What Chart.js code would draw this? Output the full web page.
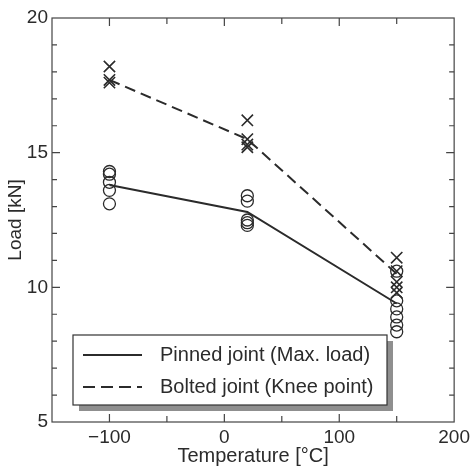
<!DOCTYPE html>
<html lang="en">

<head>
    <meta charset="UTF-8">
    <title>Load vs temperature</title>
    <style>
        html, body { margin: 0; padding: 0; background: #fff; }
        #wrap { width: 474px; height: 466px; }
    </style>
</head>

<body>
    <div id="wrap"><canvas id="load-chart" width="474" height="466"></canvas></div>
</body>

<script src="https://cdn.jsdelivr.net/npm/chart.js@4.4.1/dist/chart.umd.min.js"></script>

<script type="text/javascript" charset="utf-8">
    // Mean curves
    var temps = [-100, 20, 150];
    var pinnedMean = [13.8, 12.8, 9.4];
    var boltedMean = [17.7, 15.5, 10.5];

    // Individual test results
    var pinnedTemps = [-100, -100, -100, -100, -100, 20, 20, 20, 20, 20, 150, 150, 150, 150, 150, 150];
    var pinnedLoads = [14.3, 14.2, 13.9, 13.6, 13.1, 13.4, 13.2, 12.5, 12.4, 12.3, 10.6, 9.5, 9.2, 8.9, 8.6, 8.35];
    var boltedTemps = [-100, -100, -100, 20, 20, 20, 20, 150, 150, 150, 150, 150];
    var boltedLoads = [18.2, 17.7, 17.6, 16.2, 15.5, 15.3, 15.2, 11.1, 10.6, 10.2, 10.0, 9.8];

    var seriesNames = ['Pinned joint (Max. load)', 'Bolted joint (Knee point)'];
    var xTicks = [-100, 0, 100, 200];
    var yTicks = [5, 10, 15, 20];

    var ink = '#2b2b2b';
    var font = 'Liberation Sans, Arial, sans-serif';

    function pts(xs, ys) {
        return xs.map(function (x, i) { return { x: x, y: ys[i] }; });
    }

    // Box frame, inward ticks on all four sides, and the boxed legend
    var frameAndLegend = {
        id: 'frameAndLegend',
        afterDatasetsDraw: function (chart) {
            var ctx = chart.ctx;
            var a = chart.chartArea;
            var xs = chart.scales.x, ys = chart.scales.y;
            ctx.save();
            ctx.strokeStyle = '#444';
            ctx.lineWidth = 1.2;
            ctx.strokeRect(a.left, a.top, a.right - a.left, a.bottom - a.top);
            ctx.beginPath();
            for (var v = -100; v <= 150; v += 50) {
                var px = xs.getPixelForValue(v);
                var len = (v % 100 === 0) ? 8 : 6;
                ctx.moveTo(px, a.bottom); ctx.lineTo(px, a.bottom - len);
                ctx.moveTo(px, a.top); ctx.lineTo(px, a.top + len);
            }
            for (var w = 6; w <= 19; w++) {
                var py = ys.getPixelForValue(w);
                var l2 = (w % 5 === 0) ? 8 : 5;
                ctx.moveTo(a.left, py); ctx.lineTo(a.left + l2, py);
                ctx.moveTo(a.right, py); ctx.lineTo(a.right - l2, py);
            }
            ctx.stroke();

            // legend box
            var bx = 73, by = 335, bw = 314, bh = 70;
            ctx.fillStyle = '#8f8f8f';
            ctx.fillRect(bx + 6, by + 6, bw, bh);
            ctx.fillStyle = '#fff';
            ctx.fillRect(bx, by, bw, bh);
            ctx.strokeStyle = '#333';
            ctx.lineWidth = 1.2;
            ctx.strokeRect(bx, by, bw, bh);

            var rows = [by + 20, by + 52];
            var dashes = [[], [12, 6]];
            ctx.lineWidth = 2;
            ctx.strokeStyle = ink;
            for (var i = 0; i < 2; i++) {
                ctx.setLineDash(dashes[i]);
                ctx.beginPath();
                ctx.moveTo(83, rows[i]);
                ctx.lineTo(142, rows[i]);
                ctx.stroke();
            }
            ctx.setLineDash([]);
            ctx.fillStyle = ink;
            ctx.font = '20px ' + font;
            ctx.textBaseline = 'middle';
            ctx.textAlign = 'left';
            for (var j = 0; j < 2; j++) {
                ctx.fillText(seriesNames[j], 160, rows[j]);
            }
            ctx.restore();
        }
    };

    var chart = new Chart(document.getElementById('load-chart').getContext('2d'), {
        type: 'scatter',
        data: {
            datasets: [{
                label: seriesNames[0],
                data: pts(temps, pinnedMean),
                showLine: true,
                borderColor: ink,
                borderWidth: 2,
                pointRadius: 0
            }, {
                label: seriesNames[1],
                data: pts(temps, boltedMean),
                showLine: true,
                borderColor: ink,
                borderWidth: 2,
                borderDash: [11, 6],
                pointRadius: 0
            }, {
                label: 'pinned tests',
                data: pts(pinnedTemps, pinnedLoads),
                pointStyle: 'circle',
                pointRadius: 6,
                borderColor: ink,
                borderWidth: 1.3,
                backgroundColor: 'rgba(0,0,0,0)'
            }, {
                label: 'bolted tests',
                data: pts(boltedTemps, boltedLoads),
                pointStyle: 'crossRot',
                pointRadius: 8,
                borderColor: ink,
                borderWidth: 1.6,
                backgroundColor: 'rgba(0,0,0,0)'
            }]
        },
        options: {
            responsive: false,
            animation: false,
            devicePixelRatio: 1,
            layout: { padding: { left: 0, top: 18, right: 19, bottom: 0 } },
            plugins: {
                legend: { display: false },
                tooltip: { enabled: false }
            },
            scales: {
                x: {
                    type: 'linear',
                    min: -150,
                    max: 200,
                    afterBuildTicks: function (s) {
                        s.ticks = xTicks.map(function (v) { return { value: v }; });
                    },
                    afterFit: function (s) { s.height = 44; },
                    grid: { display: false, drawTicks: false },
                    border: { display: false },
                    ticks: {
                        padding: 4,
                        color: ink,
                        font: { family: font, size: 19 },
                        maxRotation: 0,
                        callback: function (v) { return v < 0 ? '\u2212' + Math.abs(v) : '' + v; }
                    },
                    title: {
                        display: true,
                        text: 'Temperature [\u00B0C]',
                        color: ink,
                        font: { family: font, size: 20, lineHeight: 1 },
                        padding: { top: 0, bottom: 0 }
                    }
                },
                y: {
                    type: 'linear',
                    min: 5,
                    max: 20,
                    afterBuildTicks: function (s) {
                        s.ticks = yTicks.map(function (v) { return { value: v }; });
                    },
                    afterFit: function (s) { s.width = 52; },
                    grid: { display: false, drawTicks: false },
                    border: { display: false },
                    ticks: {
                        padding: 4,
                        color: ink,
                        font: { family: font, size: 19 }
                    },
                    title: {
                        display: true,
                        text: 'Load [kN]',
                        color: ink,
                        font: { family: font, size: 19, lineHeight: 1 },
                        padding: { top: 6, bottom: 0 }
                    }
                }
            }
        },
        plugins: [frameAndLegend]
    });
</script>

</html>
